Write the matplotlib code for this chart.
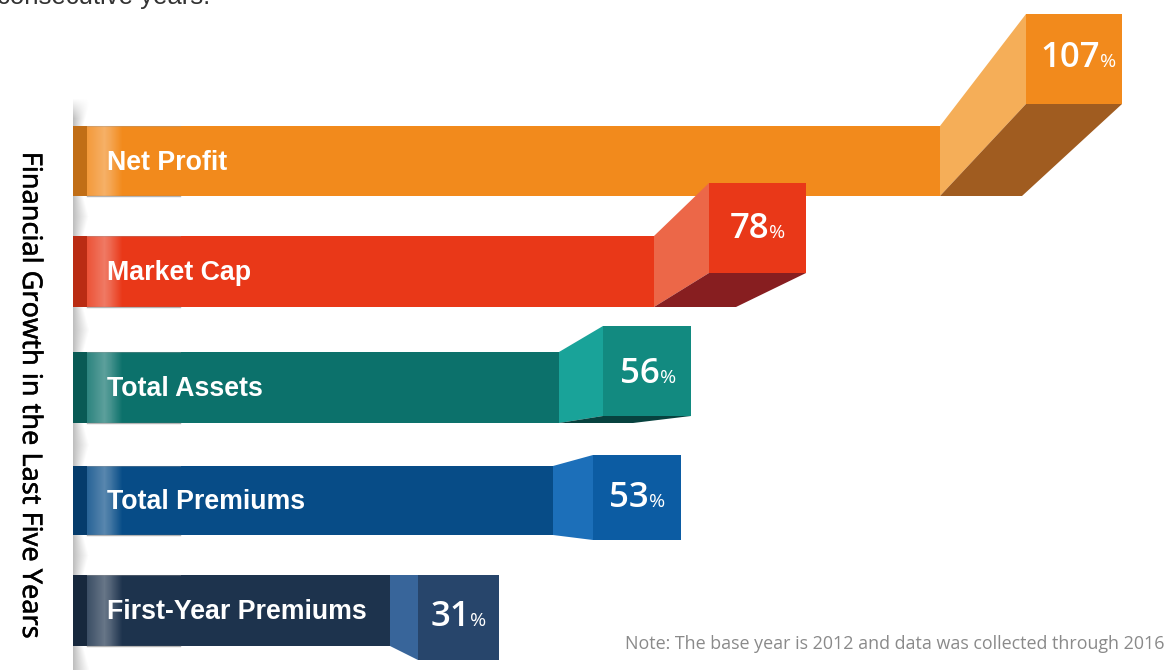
"""Financial growth infographic: folded ribbon bars, drawn on a calibrated value scale."""

import matplotlib
matplotlib.use("Agg")
import matplotlib.pyplot as plt
import matplotlib.patheffects as pe
import numpy as np
from matplotlib.patches import Polygon, Rectangle

# data
categories = ["Net Profit", "Market Cap", "Total Assets", "Total Premiums", "First-Year Premiums"]
growth = [107, 78, 56, 53, 31]

# the ribbons are not proportional, so the x axis is calibrated against the picture
scale_values = [-73, 0, 31, 53, 56, 78, 107, 130]
scale_pixels = [0, 73, 390, 553, 559, 654, 940, 1166]

# layout, image pixels
bar_top = [126, 236, 352, 466, 575]
bar_height = [70, 71, 71, 69, 71]
fold_width = [86, 55, 44, 40, 28]
front_top = [14, 183, 326, 455, 575]
front_bottom = [104, 273, 416, 540, 660]
front_width = [96, 97, 88, 88, 81]
floor_width = [82, 82, 74, None, None]  # only the upper three show an underside
number_right = [1100, 769, 660, 649, 470]
number_base = [67, 238, 383, 507, 626]

# colours
bar_colors = ["#F28A1C", "#E93818", "#0C716B", "#074C87", "#1D334D"]
side_colors = ["#F5AE58", "#EC6748", "#19A399", "#1C6FB9", "#38659A"]
front_colors = ["#F28A1C", "#E93818", "#128A80", "#0C5CA3", "#27456B"]
floor_colors = ["#A05C20", "#871E20", "#07423F", None, None]


def to_pixels(v):
    return np.interp(v, scale_values, scale_pixels)


def to_values(p):
    return np.interp(p, scale_pixels, scale_values)


fig = plt.figure(figsize=(11.66, 6.70), dpi=100, facecolor="white")

ax = fig.add_axes([0, 0, 1, 1])
ax.set_xscale("function", functions=(to_pixels, to_values))
ax.set_xlim(scale_values[0], scale_values[-1])
ax.set_ylim(670, 0)
ax.axis("off")

centres = [t + h / 2 for t, h in zip(bar_top, bar_height)]
ax.barh(centres, growth, height=bar_height, color=bar_colors, linewidth=0)

# overlay in image pixels for folds, gloss and text
deco = fig.add_axes([0, 0, 1, 1], facecolor="none")
deco.set_xlim(0, 1166)
deco.set_ylim(670, 0)
deco.axis("off")

# soft shadow down the left edge, only in the gaps between ribbons
ys = np.arange(98, 670)
xs = np.arange(73, 92)
edges = np.array(bar_top + [t + h for t, h in zip(bar_top, bar_height)])
dist = np.min(np.abs(ys[:, None] - edges[None, :]), axis=1)
reach = 10 + 6 * np.clip(dist / 22, 0, 1)
t = np.clip((xs[None, :] - 73) / reach[:, None], 0, 1)
shadow = np.zeros((len(ys), len(xs), 4))
shadow[..., :3] = 0.5
shadow[..., 3] = 0.5 * (1 - t) ** 1.1
shadow[ys < 126, :, 3] *= np.clip((ys[ys < 126] - 98) / 20, 0, 1)[:, None]
for top, h in zip(bar_top, bar_height):
    shadow[(ys >= top) & (ys < top + h), :, 3] = 0
deco.imshow(shadow, extent=(73, 92, 670, 98), aspect="auto", zorder=1,
            interpolation="bilinear")

# gloss at the start of each ribbon
gx = np.arange(87, 125)
for i in range(len(categories)):
    top, h = bar_top[i], bar_height[i]
    deco.add_patch(Rectangle((73, top), 14, h, color="black", alpha=0.2, lw=0, zorder=3))
    glow = np.zeros((1, len(gx), 4))
    glow[..., :3] = 1
    glow[0, :, 3] = np.interp(gx, [87, 104, 110, 122], [0.14, 0.33, 0.24, 0])
    deco.imshow(glow, extent=(87, 125, top + h, top), aspect="auto", zorder=3)
    deco.plot([87, 180], [top, top], color="#999999", lw=0.8, alpha=0.35, zorder=3)
    deco.plot([87, 180], [top + h, top + h], color="#777777", lw=1, alpha=0.55, zorder=3)

# folded end of each ribbon
for i, v in enumerate(growth):
    end = to_pixels(v)
    top, bot = bar_top[i], bar_top[i] + bar_height[i]
    x0 = end + fold_width[i]
    x1 = x0 + front_width[i]
    ft, fb = front_top[i], front_bottom[i]
    deco.add_patch(Polygon([(end, top), (x0, ft), (x0, fb), (end, bot)],
                           color=side_colors[i], lw=0, zorder=4))
    if floor_colors[i]:
        deco.add_patch(Polygon([(end, bot), (x0, fb), (x1, fb), (end + floor_width[i], bot)],
                               color=floor_colors[i], lw=0, zorder=4))
    deco.add_patch(Rectangle((x0, ft), front_width[i], fb - ft,
                             color=front_colors[i], lw=0, zorder=5))
    deco.text(107, centres[i] + 1.5, categories[i], color="white", fontsize=19.3,
              fontweight="bold", family="Liberation Sans", va="center", ha="left", zorder=6)
    deco.text(number_right[i], number_base[i], f"{v}", color="white", fontsize=25,
              fontweight="semibold", family="Open Sans", va="baseline", ha="right", zorder=6)
    deco.text(number_right[i], number_base[i], "%", color="white", fontsize=14,
              family="Open Sans", va="baseline", ha="left", zorder=6)

deco.text(30, 395, "Financial Growth in the Last Five Years", rotation=-90, color="black",
          fontsize=19.5, family="Noto Sans", ha="center", va="center",
          path_effects=[pe.withStroke(linewidth=0.3, foreground="black")])
deco.text(-3, 4, "consecutive years.", color="#333333", fontsize=18.5,
          family="Liberation Sans", ha="left", va="baseline")
deco.text(625, 649, "Note: The base year is 2012 and data was collected through 2016",
          color="#8A8A8A", fontsize=12.9, family="Open Sans", ha="left", va="baseline")

fig.savefig("out.png", dpi=100)
